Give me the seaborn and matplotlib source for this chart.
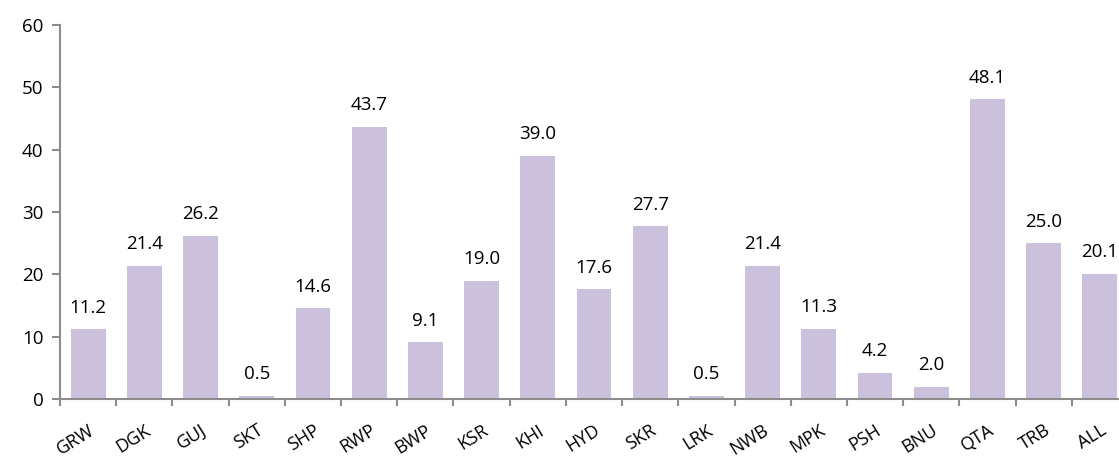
import matplotlib
matplotlib.use("Agg")
import matplotlib.pyplot as plt
import seaborn as sns
import pandas as pd

# data
districts = ['GRW', 'DGK', 'GUJ', 'SKT', 'SHP', 'RWP', 'BWP', 'KSR', 'KHI', 'HYD',
             'SKR', 'LRK', 'NWB', 'MPK', 'PSH', 'BNU', 'QTA', 'TRB', 'ALL']
values = [11.2, 21.4, 26.2, 0.5, 14.6, 43.7, 9.1, 19.0, 39.0, 17.6,
          27.7, 0.5, 21.4, 11.3, 4.2, 2.0, 48.1, 25.0, 20.1]

df = pd.DataFrame({'district': districts, 'value': values})

sns.set_style('white')
plt.rcParams['font.family'] = ['Open Sans', 'DejaVu Sans']

bar_color = '#cbc1dc'
axis_color = '#8c8c8c'
text_color = '#000000'

f = plt.figure(figsize=(11.19, 4.57), dpi=100)
ax = f.add_axes([60 / 1119, 1 - 399 / 457, 1068 / 1119, 374 / 457])

sns.barplot(data=df, x='district', y='value', color=bar_color, width=0.62,
            saturation=1, ax=ax, edgecolor='none')

for i, v in enumerate(values):
    ax.text(i, v + 2.0, '{:.1f}'.format(v), ha='center', va='bottom',
            fontsize=13.5, color=text_color)

ax.set_ylim(0, 60)
ax.set_xlim(-0.5, len(districts) - 0.5)
ax.set_yticks(range(0, 61, 10))
ax.set_xticks([i - 0.5 for i in range(len(districts))], minor=False)
ax.set_xticklabels([])
ax.set_xticks(range(len(districts)), minor=True)
ax.set_xticklabels(districts, minor=True, rotation=32, ha='right',
                   rotation_mode='anchor', fontsize=13, color=text_color)
ax.tick_params(axis='x', which='minor', bottom=True, length=0, pad=16)
ax.tick_params(axis='x', which='major', bottom=True, length=5, width=1.5,
               color=axis_color, direction='out')
ax.tick_params(axis='y', left=True, length=6, width=1.5, color=axis_color,
               labelsize=13.5, labelcolor=text_color, direction='out', pad=6)
ax.set_xlabel('')
ax.set_ylabel('')

sns.despine(ax=ax, top=True, right=True)
for side in ['left', 'bottom']:
    ax.spines[side].set_color(axis_color)
    ax.spines[side].set_linewidth(1.5)

f.savefig('out.png', dpi=100)
